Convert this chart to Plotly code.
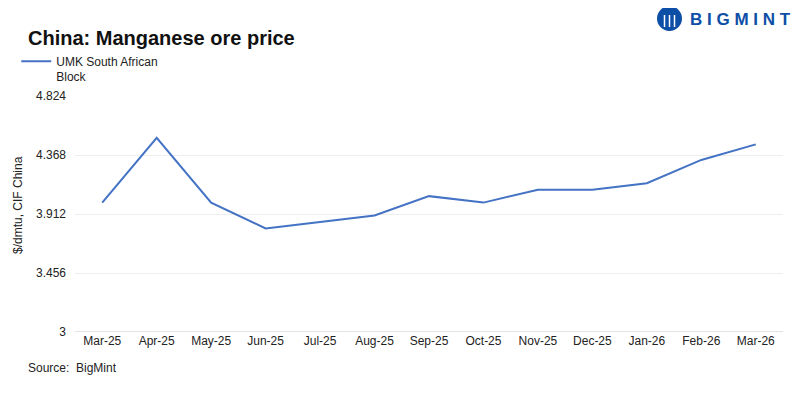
import plotly.graph_objects as go

months = ["Mar-25", "Apr-25", "May-25", "Jun-25", "Jul-25", "Aug-25", "Sep-25",
          "Oct-25", "Nov-25", "Dec-25", "Jan-26", "Feb-26", "Mar-26"]
umk_prices = [4.00, 4.50, 4.00, 3.80, 3.85, 3.90, 4.05, 4.00, 4.10, 4.10, 4.15, 4.33, 4.45]
y_ticks = [3, 3.456, 3.912, 4.368, 4.824]
y_tick_labels = ["3", "3.456", "3.912", "4.368", "4.824"]

FONT = "Liberation Sans"
TXT = "#222222"

fig = go.Figure()
fig.add_trace(go.Scatter(
    x=months, y=umk_prices, mode="lines",
    name="UMK South African<br>Block",
    line=dict(color="#4472C4", width=2),
))

fig.update_layout(
    width=800, height=399,
    margin=dict(l=67, r=25, t=88, b=75, autoexpand=False),
    paper_bgcolor="white", plot_bgcolor="white",
    font=dict(family=FONT, size=12, color=TXT),
    title=dict(text="<b>China: Manganese ore price</b>", x=20/800, xanchor="left",
               y=1 - 30/399, yanchor="middle", font=dict(family=FONT, size=20, color="#111111")),
    showlegend=True,
    legend=dict(x=-0.083, xanchor="left", y=1.208, yanchor="top", valign="top",
                font=dict(family=FONT, size=12, color=TXT),
                bgcolor="rgba(0,0,0,0)", itemwidth=30, tracegroupgap=0),
    xaxis=dict(type="category", range=[-0.5, 12.5], showgrid=False,
               showline=False, ticks="", tickfont=dict(size=12, color=TXT)),
    yaxis=dict(range=[3, 4.824], tickvals=y_ticks, ticktext=y_tick_labels,
               showgrid=True, gridcolor="#eeeeee", gridwidth=1,
               zeroline=False, showline=False, ticks="", ticklabelstandoff=8,
               tickfont=dict(size=12, color=TXT)),
)

# y-axis title
fig.add_annotation(text="$/dmtu, CIF China", xref="paper", yref="paper",
                   x=(18 - 75) / 708, y=(332 - 205) / 236, textangle=-90,
                   xanchor="center", yanchor="middle", showarrow=False,
                   font=dict(family=FONT, size=12, color=TXT))

# bottom baseline
fig.add_shape(type="line", xref="paper", yref="y", x0=0, x1=1, y0=3, y1=3,
              line=dict(color="#d9d9d9", width=1.5))

fig.add_annotation(text="Source:  BigMint", xref="paper", yref="paper",
                   x=(26 - 75) / 708, y=-0.152, xanchor="left", yanchor="middle",
                   showarrow=False, font=dict(family=FONT, size=12, color=TXT))

# logo
fig.add_shape(type="circle", xref="paper", yref="paper",
              x0=(657 - 75) / 708, x1=(682 - 75) / 708, y0=(332 - 31) / 236, y1=(332 - 6) / 236,
              fillcolor="#0d4ea6", line=dict(color="#0d4ea6", width=0))
for dx in (-5, 0, 5):
    fig.add_shape(type="line", xref="paper", yref="paper",
                  x0=(669.5 + dx - 75) / 708, x1=(669.5 + dx - 75) / 708,
                  y0=(332 - 27) / 236, y1=(332 - 15) / 236,
                  line=dict(color="white", width=1.5))
fig.add_annotation(text="<b>B I G M I N T</b>", xref="paper", yref="paper",
                   x=(688 - 75) / 708, y=(332 - 19) / 236, xanchor="left", yanchor="middle",
                   showarrow=False, font=dict(family=FONT, size=17, color="#0d4ea6"))

fig.write_html("out.html")
